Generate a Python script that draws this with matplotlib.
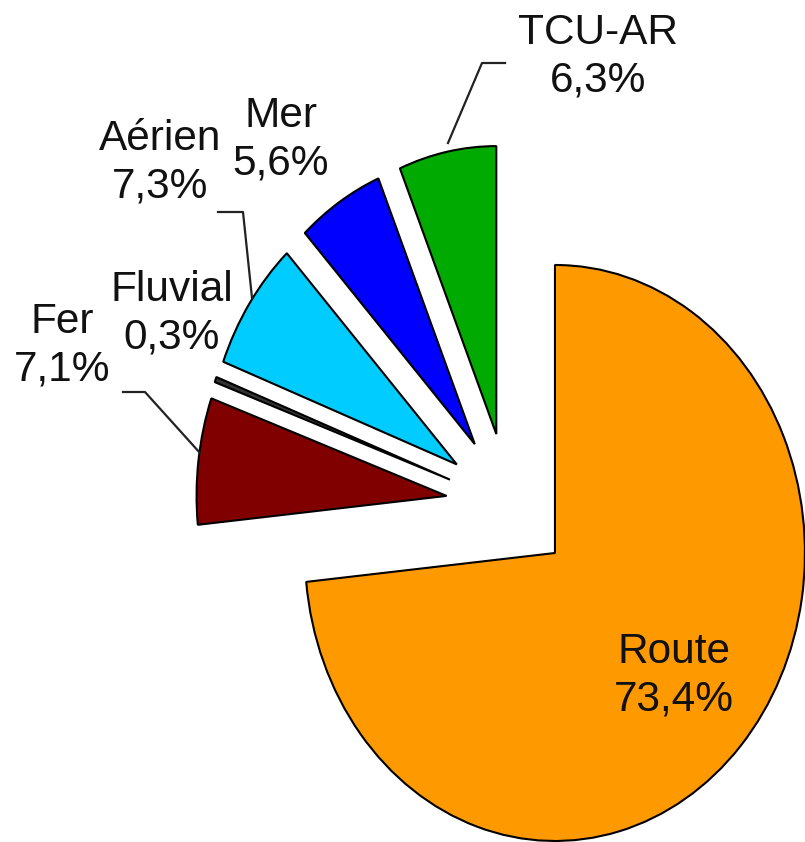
import matplotlib.pyplot as plt

# Data
labels = ['Route', 'Fer', 'Fluvial', 'Aérien', 'Mer', 'TCU-AR']
shares = [73.4, 7.1, 0.3, 7.3, 5.6, 6.3]
pct_text = ['73,4%', '7,1%', '0,3%', '7,3%', '5,6%', '6,3%']
colors = ['#FF9900', '#800000', '#333333', '#00CCFF', '#0000FF', '#00AA00']
explode = [0.25, 0.25, 0.25, 0.25, 0.25, 0.25]

# Layout (pixel positions in the 805x842 image, origin top-left)
W, H = 805, 842
CX, CY = 508.6, 504.7   # pie centre before explosion
RX, RY = 250, 288       # picture is stretched vertically
label_pos = {
    'Route': (674, 676),
    'Fer': (62, 346),
    'Fluvial': (172, 314),
    'Aérien': (160, 163),
    'Mer': (281, 140),
    'TCU-AR': (598, 57),
}
leaders = {
    'TCU-AR': [(448, 143), (482, 63), (505, 63)],
    'Aérien': [(218, 212), (243, 212), (252, 298)],
    'Fer': [(123, 392), (145, 392), (200, 453)],
}


def to_data(x, y):
    return (x - CX) / RX, (CY - y) / RY


font = ['Liberation Sans', 'DejaVu Sans']

fig = plt.figure(figsize=(W / 100, H / 100), dpi=100)
ax = fig.add_axes([0, 0, 1, 1])
ax.pie(shares, colors=colors, explode=explode, startangle=90,
       counterclock=False,
       wedgeprops=dict(edgecolor='black', linewidth=1.5, joinstyle='bevel'))
ax.set_aspect('auto')
x0, y0 = to_data(0, H)
x1, y1 = to_data(W, 0)
ax.set_xlim(x0, x1)
ax.set_ylim(y0, y1)
ax.axis('off')

# Labels
for lab, pct in zip(labels, pct_text):
    x, y = to_data(*label_pos[lab])
    ax.text(x, y, f"{lab}\n{pct}", ha='center', va='center',
            fontsize=30.5, family=font, color='#111111', linespacing=1.25)

# Leader lines
for lab, pts in leaders.items():
    xs, ys = zip(*[to_data(px, py) for px, py in pts])
    ax.plot(xs, ys, color='#222222', lw=1.6)

fig.savefig('out.png', dpi=100)
